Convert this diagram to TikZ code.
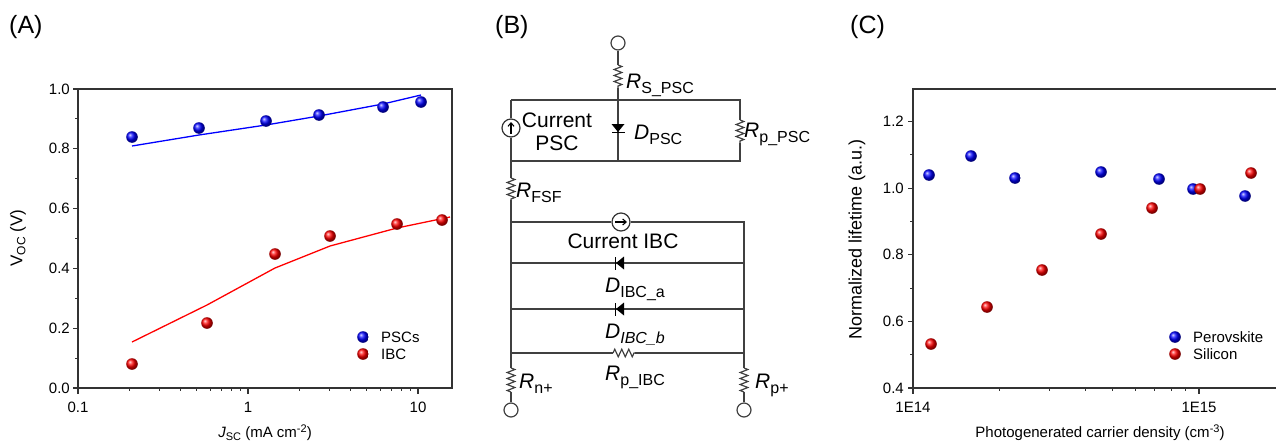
\documentclass[tikz,border=0pt]{standalone}
\usepackage{fontspec}
\setmainfont{Liberation Sans}
\usetikzlibrary{decorations.pathmorphing,arrows.meta}
\newcommand\fs[1]{\fontsize{#1}{#1}\selectfont}
\newcommand\lbl[2]{\textit{#1}\raisebox{-5pt}{\fs{16}#2}}
\begin{document}
\begin{tikzpicture}[x=1pt,y=-1pt,font=\fs{15},
  frame/.style={draw=black!80,line width=1.4pt},
  tick/.style={draw=black!80,line width=1.1pt},
  wire/.style={draw=black!75,line width=1.2pt},
  resist/.style={wire,decorate,decoration={zigzag,segment length=6pt,amplitude=3.8pt}},
  term/.style={circle,draw=black!75,line width=1.2pt,minimum size=14pt,inner sep=0pt},
  src/.style={circle,draw=black!80,line width=1.2pt,minimum size=18pt,inner sep=0pt},
  srcarrow/.style={black,line width=1.1pt,-{Straight Barb[length=3.5pt,width=6pt]}},
  ctext/.style={font=\fs{21},inner sep=0pt},
  diode/.pic={\fill[black] (-4,-6.5) -- (-4,6.5) -- (4,0) -- cycle;
              \draw[black,line width=1.2pt] (4.5,-6.5) -- (4.5,6.5);}
]
\useasboundingbox (0,0) rectangle (1276,442);
% ---------------- panel labels
\node[anchor=west,inner sep=0,font=\fs{25}] (pA) at (9,27) {(A)};
\node[anchor=west,inner sep=0,font=\fs{25}] (pB) at (495,27) {(B)};
\node[anchor=west,inner sep=0,font=\fs{25}] (pC) at (850,27) {(C)};
% ================= Panel A
\draw[frame] (78,89) rectangle (452,388);
\foreach \v/\t in {0/0.0,0.2/0.2,0.4/0.4,0.6/0.6,0.8/0.8,1.0/1.0}{
  \pgfmathsetmacro\yy{388-299*\v}
  \draw[tick] (78,\yy) -- (72.5,\yy);
  \node[anchor=east,inner sep=0] at (70,\yy) {\t};}
\foreach \v in {0.1,0.3,0.5,0.7,0.9}{
  \pgfmathsetmacro\yy{388-299*\v}
  \draw[tick] (78,\yy) -- (75,\yy);}
\foreach \xx/\t in {78/0.1,248/1,418/10}{
  \draw[tick] (\xx,388) -- (\xx,393.5);
  \node[inner sep=0] at (\xx,407) {\t};}
\foreach \d in {78,248}{\foreach \k in {2,...,9}{
  \pgfmathsetmacro\xx{\d+170*log10(\k)}
  \draw[tick] (\xx,388) -- (\xx,391);}}
\node[inner sep=0] at (265,433) {\textit{J}\raisebox{-3pt}{\fs{11}SC} (mA cm\raisebox{5pt}{\fs{11}-2})};
\node[rotate=90,inner sep=0,font=\fs{17}] at (18,238) {V\raisebox{-3pt}{\fs{12}OC} (V)};
\draw[blue,line width=1.3pt] (132,146) -- (199,135) -- (266,125) -- (319,116) -- (383,104) -- (421,95);
\draw[red,line width=1.3pt] (132,342) -- (207,305) -- (275,268) -- (330,246) -- (397,228) -- (450,217);
\foreach \x/\y in {132/137,199/128,266/121,319/115,383/107,421/102}
  \shade[ball color=blue] (\x,\y) circle (5.8);
\foreach \x/\y in {132/364,207/323,275/254,330/236,397/224,442/220}
  \shade[ball color=red] (\x,\y) circle (5.8);
\shade[ball color=blue] (363,337) circle (5.8);
\shade[ball color=red] (363,354) circle (5.8);
\node[anchor=west,inner sep=0] at (381,337) {PSCs};
\node[anchor=west,inner sep=0] at (381,354) {IBC};
% ================= Panel B (circuit)
\node[term] (T1) at (618,43) {};
\coordinate (rs1) at (618,65); \coordinate (rs2) at (618,88);
\coordinate (tl) at (511,100); \coordinate (tm) at (618,100); \coordinate (tr) at (740,100);
\coordinate (bl) at (511,161); \coordinate (bm) at (618,161); \coordinate (br) at (740,161);
\coordinate (rp1) at (740,120); \coordinate (rp2) at (740,143);
\node[src] (cs1) at (511,128) {};
\coordinate (rf1) at (511,178); \coordinate (rf2) at (511,200);
\coordinate (l1) at (511,222); \coordinate (r1) at (744,222);
\node[src] (cs2) at (621,222) {};
\coordinate (l2) at (511,263); \coordinate (r2) at (744,263);
\coordinate (l3) at (511,309); \coordinate (r3) at (744,309);
\coordinate (l4) at (511,353); \coordinate (r4) at (744,353);
\coordinate (ri1) at (613,353); \coordinate (ri2) at (635,353);
\coordinate (rn1) at (511,368); \coordinate (rn2) at (511,392);
\coordinate (rq1) at (744,368); \coordinate (rq2) at (744,392);
\node[term] (T3) at (511,410) {};
\node[term] (T4) at (744,410) {};
% wires
\draw[wire] (T1) -- (rs1);
\draw[resist] (rs1) -- (rs2);
\draw[wire] (rs2) -- (tm);
\draw[wire] (tl) -- (tr) -- (rp1);
\draw[resist] (rp1) -- (rp2);
\draw[wire] (rp2) -- (br) -- (bl);
\draw[wire] (tm) -- (bm);
\draw[wire] (tl) -- (cs1);
\draw[wire] (cs1) -- (bl) -- (rf1);
\draw[resist] (rf1) -- (rf2);
\draw[wire] (rf2) -- (l1) -- (l4) -- (rn1);
\draw[resist] (rn1) -- (rn2);
\draw[wire] (rn2) -- (T3);
\draw[wire] (l1) -- (cs2);
\draw[wire] (cs2) -- (r1) -- (rq1);
\draw[resist] (rq1) -- (rq2);
\draw[wire] (rq2) -- (T4);
\draw[wire] (l2) -- (r2);
\draw[wire] (l3) -- (r3);
\draw[wire] (l4) -- (ri1);
\draw[resist,decoration={segment length=7pt}] (ri1) -- (ri2);
\draw[wire] (ri2) -- (r4);
% sources' arrows
\draw[srcarrow] (cs1.center) ++(0,6) -- ++(0,-12);
\draw[srcarrow] (cs2.center) ++(-6,0) -- ++(12,0);
% diodes
\pic[rotate=-90] at (618,128) {diode};
\pic[rotate=180] at (620,263) {diode};
\pic[rotate=180] at (620,309) {diode};
% labels
\node[ctext,anchor=base west] (lRS) at (626,88) {\lbl{R}{S\_PSC}};
\node[ctext,anchor=base] (lC1) at (557,127) {Current};
\node[ctext,anchor=base] (lC2) at (557,150) {PSC};
\node[ctext,anchor=base west] (lD) at (634,139) {\lbl{D}{PSC}};
\node[ctext,anchor=base west] (lRP) at (744,137) {\lbl{R}{p\_PSC}};
\node[ctext,anchor=base west] (lRF) at (516,197) {\lbl{R}{FSF}};
\node[ctext,anchor=base] (lCI) at (623,248) {Current IBC};
\node[ctext,anchor=base west] (lDa) at (605,292) {\lbl{D}{IBC\_a}};
\node[ctext,anchor=base west] (lDb) at (605,338) {\lbl{D}{\textit{IBC\_b}}};
\node[ctext,anchor=base west] (lRI) at (605,380) {\lbl{R}{p\_IBC}};
\node[ctext,anchor=base west] (lRn) at (519,388) {\lbl{R}{n+}};
\node[ctext,anchor=base west] (lRq) at (755,388) {\lbl{R}{p+}};
% ================= Panel C
\begin{scope}
\clip (830,0) rectangle (1276,442);
\draw[frame] (913,89) rectangle (1300,388);
\end{scope}
\foreach \v/\t in {0.4/0.4,0.6/0.6,0.8/0.8,1.0/1.0,1.2/1.2}{
  \pgfmathsetmacro\yy{388-333*(\v-0.4)}
  \draw[tick] (913,\yy) -- (907.5,\yy);
  \node[anchor=east,inner sep=0] at (904,\yy) {\t};}
\foreach \v in {0.5,0.7,0.9,1.1}{
  \pgfmathsetmacro\yy{388-333*(\v-0.4)}
  \draw[tick] (913,\yy) -- (910,\yy);}
\foreach \xx/\t in {913/1E14,1199/1E15}{
  \draw[tick] (\xx,388) -- (\xx,393.5);
  \node[inner sep=0] at (\xx,407) {\t};}
\foreach \k in {2,...,9}{
  \pgfmathsetmacro\xx{913+286*log10(\k)}
  \draw[tick] (\xx,388) -- (\xx,391);}
\node[inner sep=0] at (1100,433) {Photogenerated carrier density (cm\raisebox{5pt}{\fs{11}-3})};
\node[rotate=90,inner sep=0,font=\fs{18}] at (857,239) {Normalized lifetime (a.u.)};
\foreach \x/\y in {929/175,971/156,1015/178,1101/172,1159/179,1193/189,1245/196}
  \shade[ball color=blue] (\x,\y) circle (5.8);
\foreach \x/\y in {931/344,987/307,1042/270,1101/234,1152/208,1200/189,1251/173}
  \shade[ball color=red] (\x,\y) circle (5.8);
\shade[ball color=blue] (1175,337) circle (5.8);
\shade[ball color=red] (1175,354) circle (5.8);
\node[anchor=west,inner sep=0] at (1193,337) {Perovskite};
\node[anchor=west,inner sep=0] at (1193,354) {Silicon};
\end{tikzpicture}
\end{document}
